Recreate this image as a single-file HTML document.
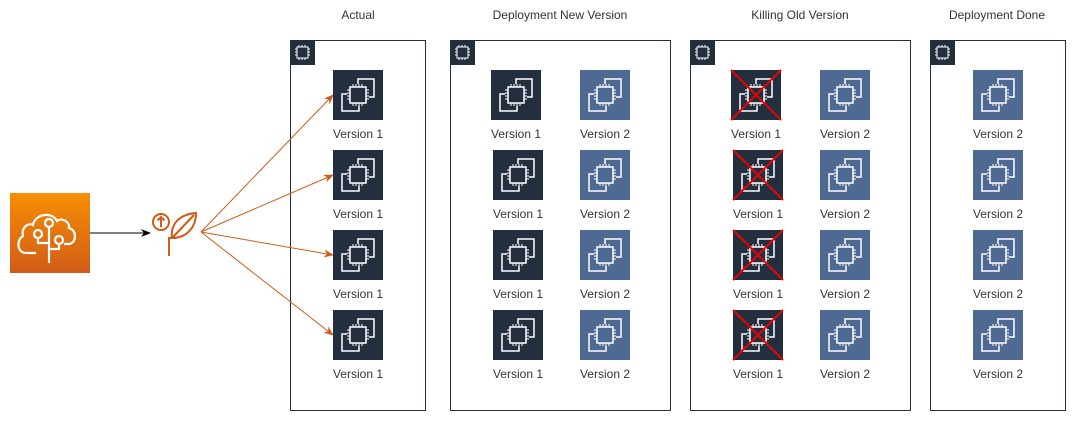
<!DOCTYPE html>
<html><head><meta charset="utf-8"><style>
html,body{margin:0;padding:0;background:#fff;}
svg{display:block;font-family:"Liberation Sans",Arial,sans-serif;}
text{font-size:12px;fill:#333;text-anchor:middle;}
</style></head><body>
<svg width="1082" height="422" viewBox="0 0 1082 422" xmlns="http://www.w3.org/2000/svg">
<defs>
<linearGradient id="og" x1="0" y1="0" x2="0" y2="1"><stop offset="0" stop-color="#F78E04"/><stop offset="1" stop-color="#D05C17"/></linearGradient>
<g id="glyph" fill="none" stroke="#fff" stroke-width="1.5">
  <path d="M25 14 V9 H41 V27 H36"/>
  <path d="M14 24 H9 V41 H26 V36"/>
  <rect x="17" y="17" width="16" height="16"/>
  <path d="M20 17v-3M23 17v-3M26 17v-3M29 17v-3M20 33v3M23 33v3M26 33v3M29 33v3M17 20h-3M17 23h-3M17 26h-3M17 29h-3M33 20h3M33 23h3M33 26h3M33 29h3" stroke-width="1"/>
</g>
<g id="v1"><rect width="50" height="50" fill="#232F3E"/><use href="#glyph"/></g>
<g id="v2"><rect width="50" height="50" fill="#4F6A92"/><use href="#glyph"/></g>
<g id="grp"><rect width="25" height="25" fill="#232F3E"/>
 <g fill="none" stroke="#fff" stroke-width="1"><rect x="7" y="7" width="11" height="11"/><path d="M9 7v-2M12 7v-2M15 7v-2M9 18v2M12 18v2M15 18v2M7 9h-2M7 12h-2M7 15h-2M18 9h2M18 12h2M18 15h2"/></g></g>
<g id="x"><path d="M0 0L50 50M50 0L0 50" stroke="#E00" stroke-width="2"/></g>
<marker id="oa" markerWidth="10" markerHeight="8" refX="9" refY="4" orient="auto" markerUnits="userSpaceOnUse"><path d="M0 0L10 4L0 8L3 4z" fill="#D05C17"/></marker>
<marker id="ba" markerWidth="10" markerHeight="8" refX="9" refY="4" orient="auto" markerUnits="userSpaceOnUse"><path d="M0 0L10 4L0 8L3 4z" fill="#000"/></marker>
</defs>

<text x="358" y="19">Actual</text>
<text x="560" y="19">Deployment New Version</text>
<text x="800" y="19">Killing Old Version</text>
<text x="997" y="19">Deployment Done</text>

<g fill="none" stroke="#232F3E" stroke-width="1">
<rect x="290.5" y="40.5" width="135" height="370"/>
<rect x="450.5" y="40.5" width="220" height="370"/>
<rect x="690.5" y="40.5" width="220" height="370"/>
<rect x="930.5" y="40.5" width="135" height="370"/>
</g>
<use href="#grp" x="290" y="40"/><use href="#grp" x="450" y="40"/><use href="#grp" x="690" y="40"/><use href="#grp" x="930" y="40"/>

<rect x="10" y="193" width="80" height="80" fill="url(#og)"/>
<g fill="none" stroke="#fff" stroke-width="2.2">
<path d="M36 253 H26 C17 253 16 240 23 236 C21 228 28 222 33 225 C35 214 52 211 57 221 C62 217 70 222 69 228 C77 230 77 243 69 244 H64"/>
<circle cx="49" cy="223" r="4"/><path d="M49 227 V263"/>
<circle cx="38" cy="234" r="4"/><path d="M38 238 V243 H49"/>
<circle cx="59" cy="240" r="4"/><path d="M59 244 V249 H49"/>
</g>
<line x1="90" y1="233" x2="150" y2="233" stroke="#000" stroke-width="1" marker-end="url(#ba)"/>

<g fill="none" stroke="#D05C17" stroke-width="2">
<circle cx="161" cy="222" r="8"/><path d="M161 227V217M157.5 220.5L161 217L164.5 220.5"/>
<path d="M169 256 V238 H176"/>
<path d="M172 238 C170 222 182 214 196 213 C196 228 186 238 172 238 Z M173 237 L194 215"/>
</g>
<g stroke="#D05C17" stroke-width="1">
<line x1="201" y1="232" x2="333" y2="95" marker-end="url(#oa)"/>
<line x1="201" y1="232" x2="333" y2="175" marker-end="url(#oa)"/>
<line x1="201" y1="232" x2="333" y2="255" marker-end="url(#oa)"/>
<line x1="201" y1="232" x2="333" y2="335" marker-end="url(#oa)"/>
</g>

<use href="#v1" x="333" y="70"/><text x="358" y="138">Version 1</text>
<use href="#v1" x="333" y="150"/><text x="358" y="218">Version 1</text>
<use href="#v1" x="333" y="230"/><text x="358" y="298">Version 1</text>
<use href="#v1" x="333" y="310"/><text x="358" y="378">Version 1</text>

<use href="#v1" x="491" y="70"/><text x="516" y="138">Version 1</text>
<use href="#v1" x="493" y="150"/><text x="518" y="218">Version 1</text>
<use href="#v1" x="493" y="230"/><text x="518" y="298">Version 1</text>
<use href="#v1" x="493" y="310"/><text x="518" y="378">Version 1</text>
<use href="#v2" x="580" y="70"/><text x="605" y="138">Version 2</text>
<use href="#v2" x="580" y="150"/><text x="605" y="218">Version 2</text>
<use href="#v2" x="580" y="230"/><text x="605" y="298">Version 2</text>
<use href="#v2" x="580" y="310"/><text x="605" y="378">Version 2</text>

<use href="#v1" x="731" y="70"/><use href="#x" x="731" y="70"/><text x="756" y="138">Version 1</text>
<use href="#v1" x="733" y="150"/><use href="#x" x="733" y="150"/><text x="758" y="218">Version 1</text>
<use href="#v1" x="733" y="230"/><use href="#x" x="733" y="230"/><text x="758" y="298">Version 1</text>
<use href="#v1" x="733" y="310"/><use href="#x" x="733" y="310"/><text x="758" y="378">Version 1</text>
<use href="#v2" x="820" y="70"/><text x="845" y="138">Version 2</text>
<use href="#v2" x="820" y="150"/><text x="845" y="218">Version 2</text>
<use href="#v2" x="820" y="230"/><text x="845" y="298">Version 2</text>
<use href="#v2" x="820" y="310"/><text x="845" y="378">Version 2</text>

<use href="#v2" x="973" y="70"/><text x="998" y="138">Version 2</text>
<use href="#v2" x="973" y="150"/><text x="998" y="218">Version 2</text>
<use href="#v2" x="973" y="230"/><text x="998" y="298">Version 2</text>
<use href="#v2" x="973" y="310"/><text x="998" y="378">Version 2</text>
</svg>
</body></html>
